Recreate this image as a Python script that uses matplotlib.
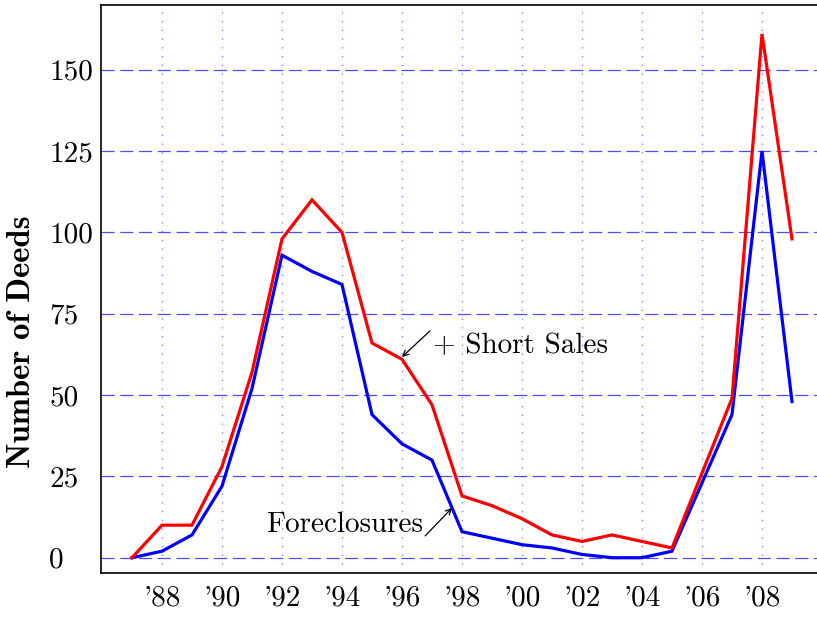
import matplotlib
matplotlib.use("Agg")
import matplotlib.pyplot as plt

years = list(range(1987, 2010))
foreclosures = [0, 2, 7, 22, 52, 93, 88, 84, 44, 35, 30, 8, 6, 4, 3, 1, 0, 0, 2, 23, 44, 125, 48]
with_short_sales = [0, 10, 10, 28, 57, 98, 110, 100, 66, 61, 47, 19, 16, 12, 7, 5, 7, 5, 3, 26, 49, 161, 98]

xtick_years = list(range(1988, 2010, 2))
xtick_labels = ["'" + str(y)[2:] for y in xtick_years]
ytick_vals = [0, 25, 50, 75, 100, 125, 150]
ytick_labels = [str(v) for v in ytick_vals]

plt.rcParams['font.family'] = ['cmr10', 'DejaVu Serif']
plt.rcParams['axes.unicode_minus'] = False
FS = 21

W, H = 817, 620
fig = plt.figure(figsize=(W / 100, H / 100), dpi=100)
ax = fig.add_axes([101 / W, (H - 573) / H, (818 - 101) / W, (573 - 5) / H])

ax.set_xlim(1985.967, 1985.967 + (818 - 101) / 30)
ax.set_ylim(-4.7, 169.9)

# grid
for y in ytick_vals:
    ax.axhline(y, color=(0, 0, 1), alpha=0.7, lw=0.9, ls=(0, (10.5, 4.5)), zorder=1)
for x in xtick_years:
    ax.axvline(x, color=(0, 0, 1), alpha=0.55, lw=0.9, ls=(0, (1, 6)), zorder=1)

ax.plot(years, foreclosures, color=(0, 0, 1), lw=2.3, zorder=3, solid_joinstyle='miter')
ax.plot(years, with_short_sales, color=(1, 0, 0), lw=2.3, zorder=4, solid_joinstyle='miter')

ax.set_xticks(xtick_years)
ax.set_xticklabels(xtick_labels, fontsize=FS)
ax.set_yticks(ytick_vals)
ax.set_yticklabels(ytick_labels, fontsize=FS, ha='left')
ax.tick_params(axis='both', length=0)
ax.tick_params(axis='y', pad=37.4)
ax.tick_params(axis='x', pad=9)

for s in ['left', 'bottom', 'top']:
    ax.spines[s].set_linewidth(1.2)
ax.spines['right'].set_visible(False)

# annotations
ax.annotate("", xy=(1997.67, 15.3), xytext=(1996.77, 6.7),
            arrowprops=dict(arrowstyle='->', lw=0.9, color='black', shrinkA=0, shrinkB=0), zorder=5)
ax.text(1996.7, 8.0, "Foreclosures", fontsize=FS, ha='right', va='baseline', zorder=5)

ax.annotate("", xy=(1996.0, 61.7), xytext=(1996.93, 69.7),
            arrowprops=dict(arrowstyle='->', lw=0.9, color='black', shrinkA=0, shrinkB=0), zorder=5)
ax.text(1997.04, 62.8, "+ Short Sales", fontsize=FS, ha='left', va='baseline', zorder=5)

fig.text(22 / W, 1 - 342 / H, "Number of Deeds", rotation=90, fontsize=23.5,
         family=['cmb10', 'DejaVu Serif'], ha='center', va='center')

fig.savefig("out.png", dpi=100)
